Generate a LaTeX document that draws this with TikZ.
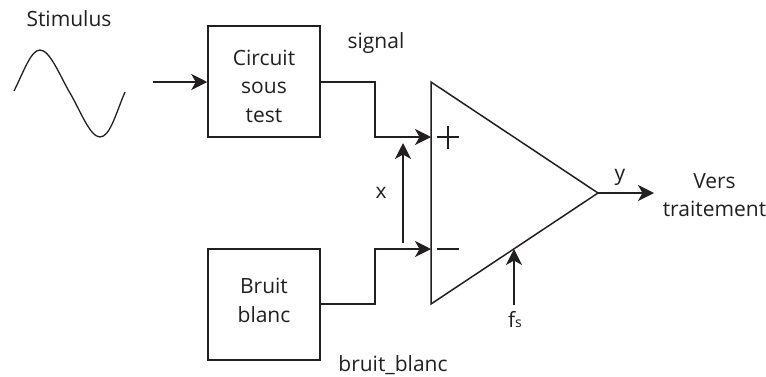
\documentclass[tikz,border=0pt]{standalone}
\usepackage{fontspec}
\setmainfont{Open Sans}
\usetikzlibrary{arrows.meta}
\definecolor{ink}{RGB}{35,31,32}
\tikzset{
  wire/.style={draw=ink,line width=1.5pt,line join=miter},
  arrowed/.style={wire,-{Stealth[length=16pt,width=16pt,inset=4.5pt]}},
  blockbox/.style={draw=ink,line width=1.5pt,minimum width=112pt,minimum height=111pt,inner sep=0pt,align=center,font=\fontsize{21}{28.5}\selectfont,text=ink},
  lbl/.style={font=\fontsize{21}{28.5}\selectfont,text=ink,inner sep=0pt,align=center},
  baselbl/.style={lbl,anchor=base}
}
\begin{document}
\begin{tikzpicture}[x=1pt,y=-1pt]
\useasboundingbox (0,0) rectangle (766,376);
% blocks
\node[blockbox] (circuit) at (264,81.5) {\rule{0pt}{25pt}Circuit\\sous\\test};
\node[blockbox] (bruit) at (264,304.5) {Bruit\\blanc\rule[-8pt]{0pt}{8pt}};
% amplifier
\coordinate (tl) at (431,82);
\coordinate (bl) at (431,304);
\coordinate (out) at (598,193);
\draw[wire] (tl) -- (bl) -- (out) -- cycle;
\coordinate (plusin) at (431,137);
\coordinate (minusin) at (431,249);
\coordinate (bend1) at (375,82);
\coordinate (bend2) at (375,137);
\coordinate (bend3) at (375,304);
\coordinate (bend4) at (375,249);
\draw[arrowed] (circuit.east |- bend1) -- (bend1) -- (bend2) -- (plusin);
\draw[arrowed] (bruit.east |- bend3) -- (bend3) -- (bend4) -- (minusin);
% plus and minus signs
\coordinate (pl) at (437,137); \coordinate (pr) at (459,137);
\coordinate (pt) at (448,126); \coordinate (pb) at (448,149);
\coordinate (ml) at (437,249); \coordinate (mr) at (459,249);
\draw[wire] (pl) -- (pr);
\draw[wire] (pt) -- (pb);
\draw[wire] (ml) -- (mr);
% x arrow
\coordinate (xa) at (403,243);
\coordinate (xb) at (403,143);
\draw[arrowed] (xa) -- (xb);
% fs arrow
\coordinate (fa) at (514,305);
\coordinate (fb) at (514,249);
\draw[arrowed] (fa) -- (fb);
% output
\coordinate (yend) at (654,193);
\draw[arrowed] (out) -- (yend);
% stimulus arrow
\coordinate (sa) at (153,82);
\draw[arrowed] (sa) -- (circuit.west |- sa);
% sine
\coordinate (s0) at (14,91);
\coordinate (s1) at (40,50);
\coordinate (sm) at (70,93);
\coordinate (s2) at (100,137);
\coordinate (s3) at (125,92);
\draw[wire,line width=1.3pt] (s0) .. controls (24,71) and (31,50) .. (s1)
  .. controls (50,50) and (60,76) .. (sm)
  .. controls (80,110) and (90,137) .. (s2)
  .. controls (110,137) and (116,113) .. (s3);
% labels
\node[baselbl] (stim) at (69,26) {Stimulus};
\node[baselbl] (sig) at (376,48) {signal};
\node[baselbl] (xl) at (381,198) {x};
\node[baselbl] (bb) at (393,371) {bruit\_blanc};
\node[baselbl] (yl) at (620,180) {y};
\node[lbl] (vers) at (714.5,195) {Vers\\traitement};
\node[baselbl] (fsl) at (515,327) {f\fontsize{14}{14}\selectfont s};
\end{tikzpicture}
\end{document}
